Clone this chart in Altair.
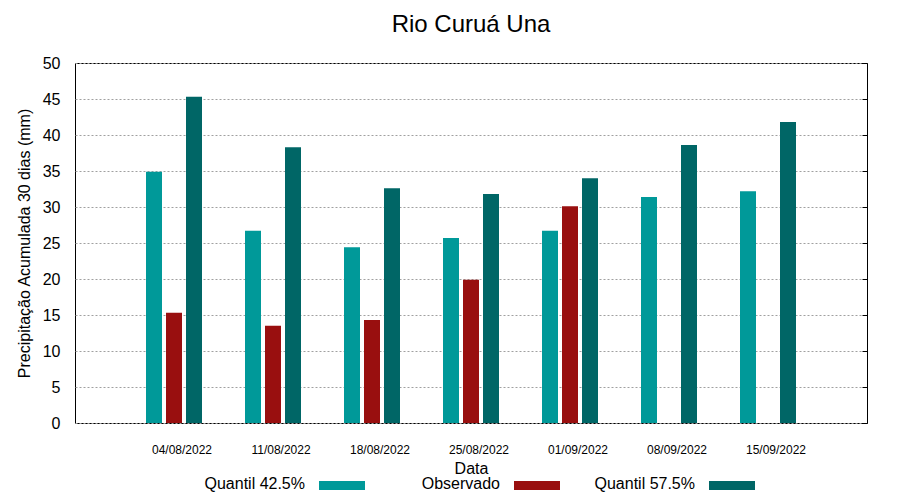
import altair as alt
import pandas as pd

title_text = "Rio Curuá Una"
dates = ["04/08/2022", "11/08/2022", "18/08/2022", "25/08/2022",
         "01/09/2022", "08/09/2022", "15/09/2022"]
series = ["Quantil 42.5%", "Observado", "Quantil 57.5%"]
colors = ["#009999", "#990f0f", "#006666"]
q425 = [34.9, 26.7, 24.4, 25.7, 26.7, 31.4, 32.2]
obs = [15.3, 13.5, 14.3, 19.9, 30.1, None, None]
q575 = [45.3, 38.3, 32.6, 31.8, 34.0, 38.6, 41.8]

rows = []
for name, vals in zip(series, [q425, obs, q575]):
    for d, v in zip(dates, vals):
        if v is not None:
            rows.append({"data": d, "serie": name, "valor": v})
df = pd.DataFrame(rows)
leg = pd.DataFrame({"serie": series})
tdf = pd.DataFrame({"t": [title_text]})

FONT = "Liberation Sans"
PI = 39 / 99
PO = (1 + PI) / 2

color = alt.Color("serie:N", scale=alt.Scale(domain=series, range=colors), legend=None)
xenc = alt.X("data:N", sort=dates,
             scale=alt.Scale(paddingInner=PI, paddingOuter=PO),
             axis=alt.Axis(title="Data", labelAngle=0, labelFontSize=12, labelPadding=21,
                           labelOffset=8, ticks=False, tickSize=0, domain=False,
                           titleFontSize=16, titleFontWeight="normal", titlePadding=5,
                           labelColor="black", titleColor="black"))
xoff = alt.XOffset("serie:N", sort=series,
                   scale=alt.Scale(domain=series, paddingInner=0.2, paddingOuter=0.1))
yscale = alt.Scale(domain=[0, 50], nice=False)

bars = alt.Chart(df).mark_bar().encode(
    x=xenc,
    xOffset=xoff,
    y=alt.Y("valor:Q", scale=yscale,
            axis=alt.Axis(title="Precipitação Acumulada 30 dias (mm)",
                          values=list(range(0, 55, 5)), labelFontSize=16,
                          labelPadding=15, ticks=False, tickSize=0, domain=False,
                          grid=True, gridDash=[2, 2], gridColor="#a0a0a0",
                          titleFontSize=16, titleFontWeight="normal", titlePadding=10,
                          labelColor="black", titleColor="black")),
    color=color,
)

right_ticks = alt.Chart(df).mark_bar(opacity=0).encode(
    x=alt.X("data:N", sort=dates, scale=alt.Scale(paddingInner=PI, paddingOuter=PO), axis=None),
    y=alt.Y("valor:Q", scale=yscale,
            axis=alt.Axis(orient="right", values=list(range(0, 55, 5)), labels=False,
                          title=None, domain=False, grid=False, tickSize=5, offset=-5,
                          tickColor="black")),
)

lx = alt.X("serie:N", scale=alt.Scale(type="point", domain=series, range=[267, 657], padding=0),
           axis=None)
leg_sw = alt.Chart(leg).mark_tick(orient="horizontal", size=46, thickness=9, opacity=1).encode(
    x=lx, y=alt.value(422.5), color=color)
leg_tx = alt.Chart(leg).mark_text(align="right", baseline="alphabetic", dx=-37,
                                  fontSize=16, font=FONT, color="black").encode(
    x=lx, y=alt.value(426), text="serie:N")

title = alt.Chart(tdf).mark_text(align="center", baseline="alphabetic", fontSize=24,
                                 font=FONT, color="black").encode(
    x=alt.value(396), y=alt.value(-31), text="t:N")

chart = alt.layer(bars, right_ticks, leg_sw, leg_tx, title).resolve_scale(
    x="independent", y="independent"
).properties(
    width=792, height=360,
    autosize=alt.AutoSizeParams(type="none"),
    padding={"left": 67, "top": 55, "right": 17, "bottom": 69},
).configure(font=FONT).configure_view(stroke="black", strokeWidth=1)

chart.save("out.html", embed_options={"renderer": "svg", "actions": False})
